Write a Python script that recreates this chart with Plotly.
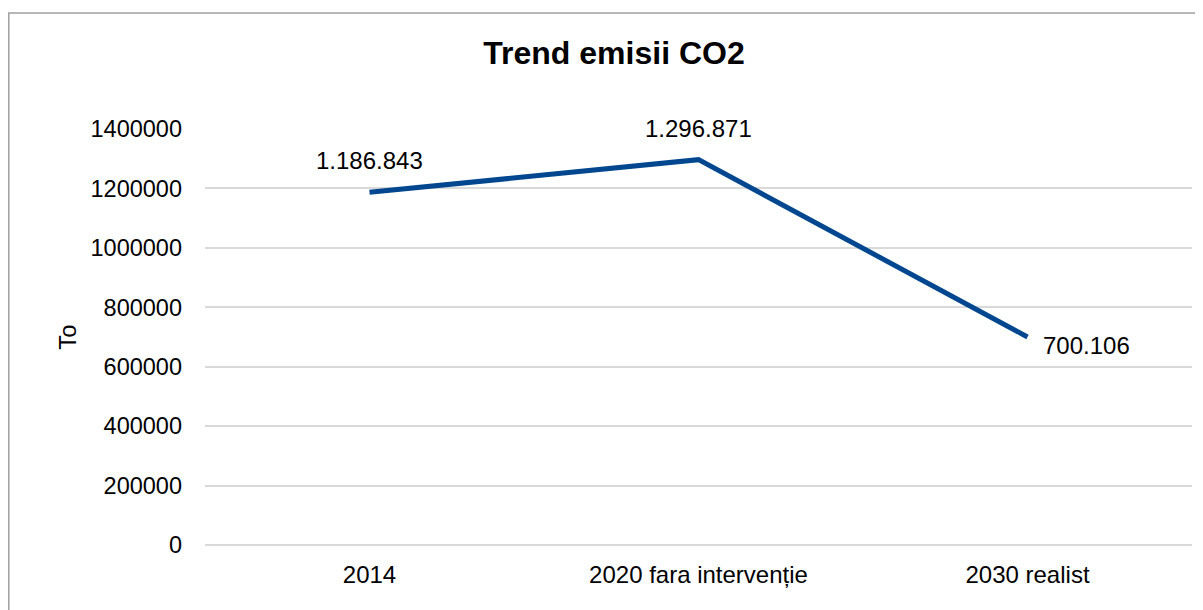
import plotly.graph_objects as go

categories = ["2014", "2020 fara intervenție", "2030 realist"]
values = [1186843, 1296871, 700106]
labels = ["1.186.843", "1.296.871", "700.106"]
y_ticks = [0, 200000, 400000, 600000, 800000, 1000000, 1200000, 1400000]

FONT = "Liberation Sans, Arial, sans-serif"

fig = go.Figure()
fig.add_trace(go.Scatter(
    x=categories, y=values, mode="lines",
    line=dict(color="#00478F", width=5),
    hoverinfo="skip", showlegend=False,
))

# data labels
label_pos = [
    dict(xshift=0, yshift=32, xanchor="center"),
    dict(xshift=0, yshift=31, xanchor="center"),
    dict(xshift=13, yshift=-9, xanchor="left"),
]
for i, (v, t, p) in enumerate(zip(values, labels, label_pos)):
    fig.add_annotation(x=i, y=v, text=t, showarrow=False,
                       font=dict(family=FONT, size=24, color="#000000"),
                       yanchor="middle", **p)

# page has an 8px body margin, so figure coords = screenshot coords - 8
OFF = 8
L, R, T, B = 205 - OFF, 1192 - OFF, 129 - OFF, 545 - OFF
W, H = 1203 - OFF, 610 - OFF
pw, ph = R - L, B - T

fig.add_shape(type="rect", xref="paper", yref="paper",
              x0=(8 - OFF - L) / pw + 0.0008, x1=(1215 - OFF - L) / pw,
              y0=(B - 625) / ph, y1=(B - (13 - OFF)) / ph,
              line=dict(color="#A0A0A0", width=1.5), fillcolor="rgba(0,0,0,0)",
              layer="below")

fig.update_layout(
    width=W, height=H,
    margin=dict(l=L, r=W - R, t=T, b=H - B, autoexpand=False),
    paper_bgcolor="white", plot_bgcolor="white",
    font=dict(family=FONT, size=24, color="#000000"),
    title=dict(text="<b>Trend emisii CO2</b>", x=(614 - OFF) / W, xanchor="center",
               y=1 - (53 - OFF) / H, yanchor="middle", xref="container", yref="container",
               font=dict(family=FONT, size=32, color="#000000")),
    showlegend=False,
)
fig.update_xaxes(
    type="category", range=[-0.5, 2.5],
    showgrid=False, showline=False, zeroline=False, ticks="",
    tickfont=dict(family=FONT, size=24, color="#000000"),
    ticklabelstandoff=13,
)
fig.update_yaxes(
    range=[0, 1400000], tickvals=y_ticks, tickformat="d",
    showgrid=True, gridcolor="#D9D9D9", gridwidth=1.5,
    zeroline=True, zerolinecolor="#D9D9D9", zerolinewidth=1.5,
    showline=False, ticks="",
    tickfont=dict(family=FONT, size=23.5, color="#000000"),
    ticklabelstandoff=22,
    title=dict(text="To", standoff=7, font=dict(family=FONT, size=24, color="#000000")),
)

fig.write_html("out.html")
